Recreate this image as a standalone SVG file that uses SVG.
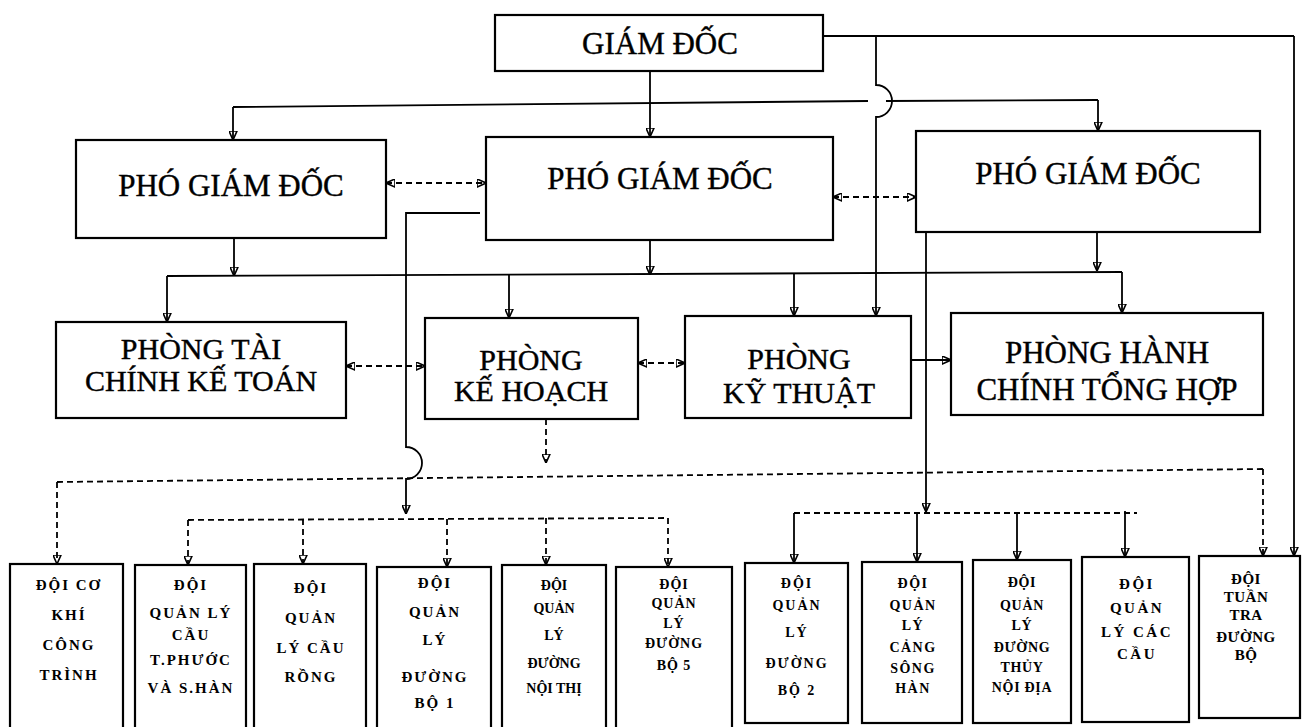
<svg xmlns="http://www.w3.org/2000/svg" width="1303" height="727" viewBox="0 0 1303 727">
<defs>
<marker id="ah" viewBox="0 0 10 10" refX="10" refY="5" markerWidth="9" markerHeight="9" markerUnits="userSpaceOnUse" orient="auto-start-reverse">
<path d="M0,0.5 L10,5 L0,9.5 z" fill="none" stroke="#000" stroke-width="1.8"/>
</marker>
<style>
.box{fill:#fff;stroke:#000;stroke-width:2.2}
.t{font-family:"Liberation Serif","Times New Roman",serif;text-anchor:middle;fill:#000}
.big{font-size:31px;stroke:#000;stroke-width:0.4}
.mid{font-size:30px;stroke:#000;stroke-width:0.4}
.sm{font-size:14px;font-weight:bold}
.w1{font-size:15px;letter-spacing:2px}
.w2{font-size:14px;letter-spacing:2px}
.w3{font-size:14px;letter-spacing:1px}
.w4{font-size:14px;letter-spacing:1.5px}
.w5{font-size:14px;letter-spacing:0.7px}
.w6{font-size:15px;letter-spacing:2.5px}
.w7{font-size:15px;letter-spacing:0.5px}
.ln{fill:none;stroke:#000;stroke-width:1.8}
.ds{fill:none;stroke:#000;stroke-width:1.8;stroke-dasharray:6 4}
.ar{marker-end:url(#ah)}
.ar2{marker-start:url(#ah);marker-end:url(#ah)}
</style>
</defs>
<rect width="1303" height="727" fill="#fff"/>

<g id="connectors">
<path class="ln ar" d="M650,71 V137"/>
<path class="ln" d="M233,107 L868,101"/>
<path class="ln" d="M886,101 L1098,100"/>
<path class="ln ar" d="M233,107 V140"/>
<path class="ln ar" d="M1098,100 V131"/>
<path class="ln" d="M823,36 H1294"/>
<path class="ln ar" d="M1294,36 V556"/>
<path class="ln ar" d="M876,36 V85 A16,16 0 0 1 876,117 V316"/>
<path class="ds ar2" d="M386,183 H486"/>
<path class="ds ar2" d="M833,197 H916"/>
<path class="ln ar" d="M234,238 V276"/>
<path class="ln ar" d="M650,240 V275"/>
<path class="ln ar" d="M1097,232 V271"/>
<path class="ln" d="M167,276 L1122,272"/>
<path class="ln ar" d="M167,276 V322"/>
<path class="ln ar" d="M509,275 V318"/>
<path class="ln ar" d="M794,273 V316"/>
<path class="ln ar" d="M1122,272 V313"/>
<path class="ds ar2" d="M346,366 H425"/>
<path class="ds ar2" d="M638,363 H685"/>
<path class="ln ar" d="M911,360 H951"/>
<path class="ln ar" d="M480,213 H406 V447 A16,16 0 0 1 406,479 V514"/>
<path class="ln ar" d="M926,232 V512"/>
<path class="ds ar" d="M546,419 V463"/>
<path class="ds" d="M57,482 L1263,469"/>
<path class="ds ar" d="M57,482 V564"/>
<path class="ds ar" d="M1263,469 V556"/>
<path class="ds" d="M188,520 L668,518"/>
<path class="ds ar" d="M188,520 V565"/>
<path class="ds ar" d="M303,519 V564"/>
<path class="ds ar" d="M447,519 V567"/>
<path class="ds ar" d="M546,518 V565"/>
<path class="ds ar" d="M668,518 V567"/>
<path class="ds" d="M794,513 H1137"/>
<path class="ln ar" d="M794,513 V563"/>
<path class="ln ar" d="M917,513 V562"/>
<path class="ln ar" d="M1017,513 V560"/>
<path class="ln ar" d="M1125,511 V557"/>
</g>

<g id="giam-doc"><rect class="box" x="495" y="15" width="328" height="56"/><text class="t big" x="660" y="54">GIÁM ĐỐC</text></g>
<g id="pgd-left"><rect class="box" x="76" y="140" width="310" height="98"/><text class="t big" x="231" y="196">PHÓ GIÁM ĐỐC</text></g>
<g id="pgd-mid"><rect class="box" x="486" y="137" width="347" height="103"/><text class="t big" x="660" y="189">PHÓ GIÁM ĐỐC</text></g>
<g id="pgd-right"><rect class="box" x="916" y="131" width="344" height="101"/><text class="t big" x="1088" y="184">PHÓ GIÁM ĐỐC</text></g>

<g id="phong-tai-chinh"><rect class="box" x="56" y="322" width="290" height="96"/><text class="t mid" x="201" y="359">PHÒNG TÀI</text><text class="t mid" x="201" y="391">CHÍNH KẾ TOÁN</text></g>
<g id="phong-ke-hoach"><rect class="box" x="425" y="318" width="213" height="101"/><text class="t mid" x="531" y="370">PHÒNG</text><text class="t mid" x="531" y="401">KẾ HOẠCH</text></g>
<g id="phong-ky-thuat"><rect class="box" x="685" y="316" width="226" height="102"/><text class="t mid" x="799" y="369">PHÒNG</text><text class="t mid" x="799" y="403">KỸ THUẬT</text></g>
<g id="phong-hanh-chinh"><rect class="box" x="951" y="313" width="312" height="102"/><text class="t big" x="1107" y="363">PHÒNG HÀNH</text><text class="t big" x="1107" y="400">CHÍNH TỔNG HỢP</text></g>

<g id="doi-co-khi"><rect class="box" x="10" y="564" width="113" height="175"/>
<text class="t sm w1" x="69" y="590">ĐỘI CƠ</text><text class="t sm w1" x="69" y="620">KHÍ</text><text class="t sm w1" x="69" y="650">CÔNG</text><text class="t sm w1" x="69" y="680">TRÌNH</text></g>
<g id="doi-cau-tp"><rect class="box" x="135" y="565" width="111" height="175"/>
<text class="t sm w1" x="191" y="590">ĐỘI</text><text class="t sm w1" x="191" y="618">QUẢN LÝ</text><text class="t sm w1" x="191" y="640">CẦU</text><text class="t sm w1" x="191" y="665">T.PHƯỚC</text><text class="t sm w1" x="191" y="693">VÀ S.HÀN</text></g>
<g id="doi-cau-rong"><rect class="box" x="254" y="564" width="112" height="175"/>
<text class="t sm w1" x="311" y="593">ĐỘI</text><text class="t sm w1" x="311" y="623">QUẢN</text><text class="t sm w1" x="311" y="653">LÝ CẦU</text><text class="t sm w1" x="311" y="682">RỒNG</text></g>
<g id="doi-duong-bo-1"><rect class="box" x="377" y="567" width="114" height="175"/>
<text class="t sm w1" x="435" y="588">ĐỘI</text><text class="t sm w1" x="435" y="617">QUẢN</text><text class="t sm w1" x="435" y="645">LÝ</text><text class="t sm w1" x="435" y="682">ĐƯỜNG</text><text class="t sm w1" x="435" y="708">BỘ 1</text></g>
<g id="doi-noi-thi"><rect class="box" x="502" y="565" width="104" height="175"/>
<text class="t sm" x="554" y="590">ĐỘI</text><text class="t sm" x="554" y="613">QUẢN</text><text class="t sm" x="554" y="640">LÝ</text><text class="t sm" x="554" y="668">ĐƯỜNG</text><text class="t sm" x="554" y="693">NỘI THỊ</text></g>
<g id="doi-duong-bo-5"><rect class="box" x="616" y="567" width="116" height="175"/>
<text class="t sm w3" x="674" y="589">ĐỘI</text><text class="t sm w3" x="674" y="608">QUẢN</text><text class="t sm w3" x="674" y="628">LÝ</text><text class="t sm w3" x="674" y="648">ĐƯỜNG</text><text class="t sm w3" x="674" y="670">BỘ 5</text></g>
<g id="doi-duong-bo-2"><rect class="box" x="745" y="563" width="103" height="160"/>
<text class="t sm w2" x="797" y="588">ĐỘI</text><text class="t sm w2" x="797" y="610">QUẢN</text><text class="t sm w2" x="797" y="637">LÝ</text><text class="t sm w2" x="797" y="668">ĐƯỜNG</text><text class="t sm w2" x="797" y="695">BỘ 2</text></g>
<g id="doi-cang"><rect class="box" x="862" y="562" width="100" height="161"/>
<text class="t sm w4" x="913" y="588">ĐỘI</text><text class="t sm w4" x="913" y="610">QUẢN</text><text class="t sm w4" x="913" y="630">LÝ</text><text class="t sm w4" x="913" y="652">CẢNG</text><text class="t sm w4" x="913" y="673">SÔNG</text><text class="t sm w4" x="913" y="693">HÀN</text></g>
<g id="doi-duong-thuy"><rect class="box" x="973" y="560" width="98" height="163"/>
<text class="t sm w5" x="1022" y="587">ĐỘI</text><text class="t sm w5" x="1022" y="610">QUẢN</text><text class="t sm w5" x="1022" y="630">LÝ</text><text class="t sm w5" x="1022" y="652">ĐƯỜNG</text><text class="t sm w5" x="1022" y="672">THỦY</text><text class="t sm w5" x="1022" y="692">NỘI ĐỊA</text></g>
<g id="doi-cac-cau"><rect class="box" x="1082" y="557" width="107" height="165"/>
<text class="t sm w6" x="1137" y="589">ĐỘI</text><text class="t sm w6" x="1137" y="613">QUẢN</text><text class="t sm w6" x="1137" y="637">LÝ CÁC</text><text class="t sm w6" x="1137" y="659">CẦU</text></g>
<g id="doi-tuan-tra"><rect class="box" x="1199" y="556" width="101" height="162"/>
<text class="t sm w7" x="1246" y="584">ĐỘI</text><text class="t sm w7" x="1246" y="602">TUẦN</text><text class="t sm w7" x="1246" y="620">TRA</text><text class="t sm w7" x="1246" y="642">ĐƯỜNG</text><text class="t sm w7" x="1246" y="660">BỘ</text></g>
</svg>
